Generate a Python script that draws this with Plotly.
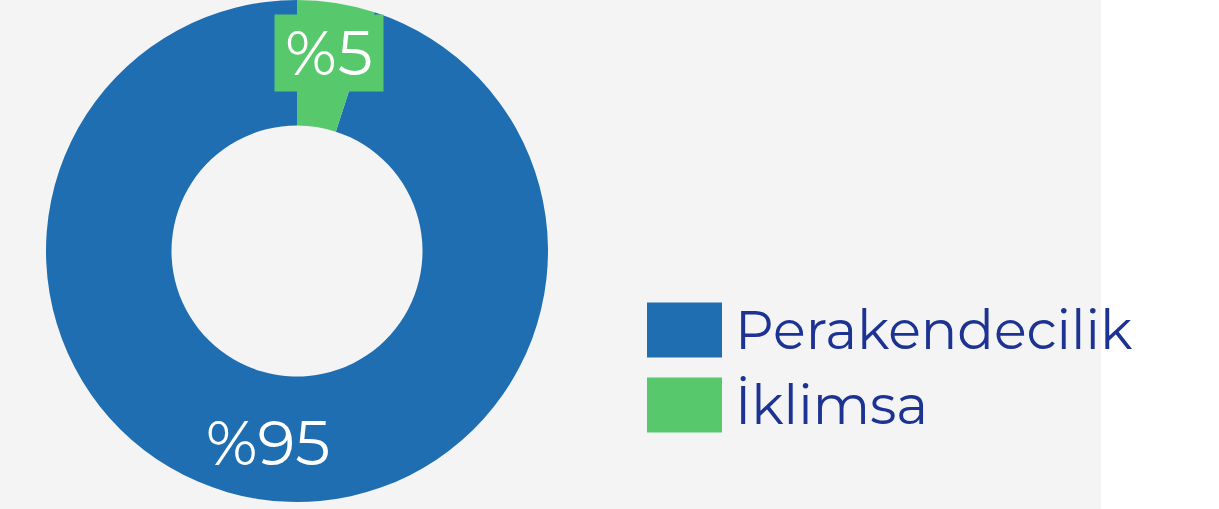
import plotly.graph_objects as go

labels = ["Perakendecilik", "İklimsa"]
values = [95, 5]
colors = ["#1f6eb2", "#57c96c"]
label_texts = ["%95", "%5"]

W, H = 1219, 509
FONT = "Montserrat, 'Open Sans', sans-serif"
TEXT_BLUE = "#1c3393"

fig = go.Figure(go.Pie(
    labels=labels,
    values=values,
    marker=dict(colors=colors, line=dict(width=0)),
    hole=0.5,
    sort=False,
    direction="clockwise",
    rotation=18,
    textinfo="none",
    domain=dict(x=[46 / W, 548 / W], y=[7 / H, 1.0]),
    showlegend=False,
    hoverinfo="label+percent",
))

shapes = [dict(type="rect", xref="paper", yref="paper", x0=0, x1=1101 / W, y0=0, y1=1,
               fillcolor="#f4f4f4", line=dict(width=0), layer="below")]
annotations = [
    dict(text=label_texts[0], xref="paper", yref="paper", x=268 / W, y=1 - 443 / H,
         xanchor="center", yanchor="middle", showarrow=False,
         font=dict(color="white", size=62, family=FONT)),
    dict(text=label_texts[1], xref="paper", yref="paper", x=329 / W, y=1 - 53 / H,
         xanchor="center", yanchor="middle", showarrow=False,
         font=dict(color="white", size=62, family=FONT),
         bgcolor=colors[1], width=108, height=76, borderpad=0),
]

# legend
leg_y = [330, 405]
for i, lab in enumerate(labels):
    yc = leg_y[i]
    shapes.append(dict(type="rect", xref="paper", yref="paper", x0=647 / W, x1=722 / W,
                       y0=1 - (yc + 27.5) / H, y1=1 - (yc - 27.5) / H,
                       fillcolor=colors[i], line=dict(width=0)))
    annotations.append(dict(text=lab, xref="paper", yref="paper", x=733 / W, y=1 - yc / H,
                            xanchor="left", yanchor="middle", showarrow=False,
                            font=dict(color=TEXT_BLUE, size=54, family=FONT)))

fig.update_layout(
    width=W, height=H,
    margin=dict(l=0, r=0, t=0, b=0),
    paper_bgcolor="white",
    plot_bgcolor="white",
    shapes=shapes,
    annotations=annotations,
)

fig.write_html("out.html", config={"displayModeBar": False},
               post_script="document.body.style.margin='0';")
